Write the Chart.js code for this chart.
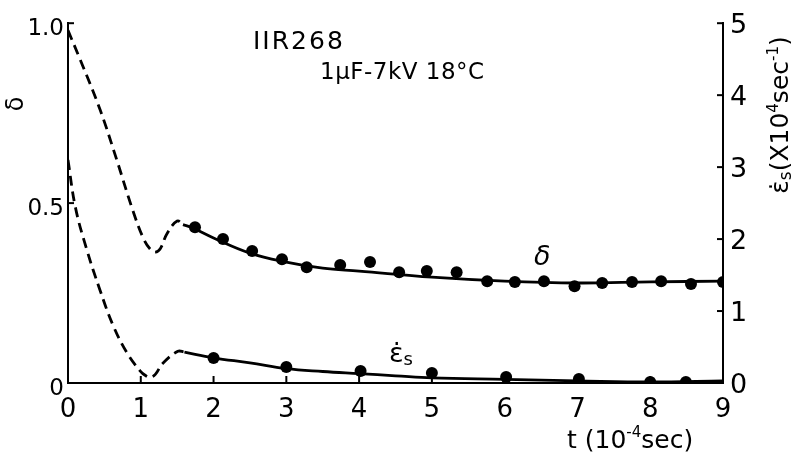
<!DOCTYPE html>
<html>
<head>
<meta charset="utf-8">
<script src="https://cdn.jsdelivr.net/npm/chart.js@4.4.1/dist/chart.umd.min.js"></script>
<style>
  html, body { margin: 0; padding: 0; background: #fff; }
</style>
</head>
<body>
<canvas id="chart" width="791" height="457"></canvas>
<script>
// time axis, units of 1e-4 sec
const xTicks = [0, 1, 2, 3, 4, 5, 6, 7, 8, 9];

// delta: fitted curve (dashed early part, solid later part) and measured points
const deltaDashT = [0, 0.165, 0.44, 0.67, 0.89, 1.04, 1.13, 1.2, 1.27, 1.36, 1.5, 1.58];
const deltaDash  = [0.98, 0.9, 0.76, 0.62, 0.48, 0.4, 0.372, 0.364, 0.374, 0.415, 0.45, 0.44];
const deltaFitT  = [1.58, 1.7, 2.0, 2.5, 3.0, 3.5, 4.0, 5.0, 6.0, 7.0, 8.0, 9.0];
const deltaFit   = [0.44, 0.432, 0.403, 0.361, 0.336, 0.319, 0.311, 0.294, 0.283, 0.278, 0.281, 0.283];
const deltaObsT  = [1.745, 2.13, 2.53, 2.94, 3.28, 3.74, 4.15, 4.55, 4.93, 5.34, 5.76, 6.14, 6.54, 6.96, 7.34, 7.75, 8.15, 8.56, 9.0];
const deltaObs   = [0.433, 0.40, 0.367, 0.344, 0.322, 0.328, 0.336, 0.308, 0.311, 0.308, 0.283, 0.281, 0.283, 0.269, 0.278, 0.281, 0.283, 0.275, 0.281];

// strain rate (x10^4 /sec): fitted curve and measured points
const rateDashT = [0, 0.1, 0.25, 0.44, 0.62, 0.81, 0.99, 1.07, 1.13, 1.2, 1.3, 1.51, 1.6];
const rateDash  = [3.1, 2.45, 1.88, 1.29, 0.8, 0.42, 0.17, 0.1, 0.08, 0.12, 0.27, 0.44, 0.43];
const rateFitT  = [1.6, 2.0, 2.5, 3.0, 3.5, 4.0, 4.5, 5.0, 6.0, 7.0, 8.0, 9.0];
const rateFit   = [0.43, 0.35, 0.28, 0.2, 0.16, 0.13, 0.1, 0.07, 0.05, 0.03, 0.015, 0.03];
const rateObsT  = [2.0, 3.0, 4.02, 5.0, 6.02, 7.02, 8.0, 8.49];
const rateObs   = [0.347, 0.222, 0.167, 0.139, 0.083, 0.056, 0.014, 0.014];

const deltaTicks = [0, 0.5, 1.0];
const rateTicks = [0, 1, 2, 3, 4, 5];

const pts = (xs, ys) => xs.map((x, i) => ({ x, y: ys[i] }));
const FONT = '"DejaVu Sans", sans-serif';

function curve(data, axis, dashed) {
  return {
    data, yAxisID: axis, borderColor: '#000', borderWidth: 2.8,
    borderDash: dashed ? [10, 6] : [], pointRadius: 0,
    tension: 0.4, fill: false
  };
}
function dots(data, axis) {
  return {
    data, yAxisID: axis, showLine: false, pointRadius: 6,
    pointBackgroundColor: '#000', pointBorderColor: '#000', pointBorderWidth: 0
  };
}

// draws a run of text pieces (normal / super / subscript) starting at x
function drawRuns(ctx, runs, x, y, align) {
  let total = 0;
  runs.forEach(r => { ctx.font = r.size + 'px ' + FONT; total += ctx.measureText(r.t).width; });
  let cx = align === 'center' ? x - total / 2 : x;
  runs.forEach(r => {
    ctx.font = (r.italic ? 'italic ' : '') + r.size + 'px ' + FONT;
    ctx.fillText(r.t, cx, y + (r.dy || 0));
    cx += ctx.measureText(r.t).width;
  });
}

const decor = {
  id: 'decor',
  afterDraw(chart) {
    const { ctx, scales: { x, y, y2 } } = chart;
    const bottom = y.getPixelForValue(0);
    ctx.save();
    ctx.strokeStyle = '#000';
    ctx.lineWidth = 2;
    // inward tick marks
    xTicks.slice(1, -1).forEach(v => {
      const px = x.getPixelForValue(v);
      ctx.beginPath(); ctx.moveTo(px, bottom); ctx.lineTo(px, bottom - 7); ctx.stroke();
    });
    deltaTicks.slice(1).forEach(v => {
      const py = y.getPixelForValue(v);
      ctx.beginPath(); ctx.moveTo(x.left, py); ctx.lineTo(x.left + 6, py); ctx.stroke();
    });
    rateTicks.slice(1).forEach(v => {
      const py = y2.getPixelForValue(v);
      ctx.beginPath(); ctx.moveTo(x.right, py); ctx.lineTo(x.right - 6, py); ctx.stroke();
    });

    ctx.fillStyle = '#000';
    ctx.textBaseline = 'alphabetic';
    ctx.textAlign = 'left';

    ctx.font = '25px ' + FONT;
    ctx.letterSpacing = '2px';
    ctx.fillText('IIR268', 253, 49);
    ctx.letterSpacing = '0.5px';
    ctx.font = '23px ' + FONT;
    ctx.fillText('1μF-7kV 18°C', 320, 79);
    ctx.letterSpacing = '0px';

    // curve labels
    drawRuns(ctx, [{ t: 'δ', size: 27, italic: true }], 534, 265);
    drawRuns(ctx, [{ t: 'ε̇', size: 27 }, { t: 's', size: 18, dy: 3 }], 389, 362);

    // x axis title
    drawRuns(ctx, [
      { t: 't (10', size: 25 }, { t: '-4', size: 15, dy: -11 }, { t: 'sec)', size: 25 }
    ], 567, 448);

    // left axis title
    ctx.save();
    ctx.translate(23, 104);
    ctx.rotate(-Math.PI / 2);
    drawRuns(ctx, [{ t: 'δ', size: 24 }], 0, 0, 'center');
    ctx.restore();

    // right axis title
    ctx.save();
    ctx.translate(788, 115);
    ctx.rotate(-Math.PI / 2);
    drawRuns(ctx, [
      { t: 'ε̇', size: 25 }, { t: 's', size: 17, dy: 3 }, { t: '(X10', size: 25 },
      { t: '4', size: 15, dy: -10 }, { t: 'sec', size: 25 }, { t: '-1', size: 15, dy: -10 },
      { t: ')', size: 25 }
    ], 0, 0, 'center');
    ctx.restore();
    ctx.restore();
  }
};

new Chart(document.getElementById('chart'), {
  type: 'line',
  data: {
    datasets: [
      curve(pts(deltaDashT, deltaDash), 'y', true),
      curve(pts(deltaFitT, deltaFit), 'y', false),
      dots(pts(deltaObsT, deltaObs), 'y'),
      curve(pts(rateDashT, rateDash), 'y2', true),
      curve(pts(rateFitT, rateFit), 'y2', false),
      dots(pts(rateObsT, rateObs), 'y2')
    ]
  },
  options: {
    responsive: false,
    devicePixelRatio: 1,
    animation: false,
    layout: { padding: { top: 21, left: 0, right: 0, bottom: 0 } },
    plugins: { legend: { display: false }, tooltip: { enabled: false } },
    scales: {
      x: {
        type: 'linear', min: 0, max: 9,
        afterBuildTicks: s => { s.ticks = xTicks.map(v => ({ value: v })); },
        afterFit: s => { s.height = 74; },
        grid: { drawOnChartArea: false, drawTicks: false },
        border: { display: true, color: '#000', width: 2 },
        ticks: { color: '#000', padding: 12, font: { family: FONT, size: 26 }, maxRotation: 0 }
      },
      y: {
        position: 'left', min: 0, max: 1,
        afterBuildTicks: s => { s.ticks = deltaTicks.map(v => ({ value: v })); },
        afterFit: s => { s.width = 68; },
        grid: { drawOnChartArea: false, drawTicks: false },
        border: { display: true, color: '#000', width: 2 },
        ticks: {
          color: '#000', padding: 4, labelOffset: 6, font: { family: FONT, size: 23 },
          callback: v => v === 0 ? '0' : v.toFixed(1)
        }
      },
      y2: {
        position: 'right', min: 0, max: 5,
        afterBuildTicks: s => { s.ticks = rateTicks.map(v => ({ value: v })); },
        afterFit: s => { s.width = 68; },
        grid: { drawOnChartArea: false, drawTicks: false },
        border: { display: true, color: '#000', width: 2 },
        ticks: { color: '#000', padding: 7, labelOffset: 3, font: { family: FONT, size: 27 } }
      }
    }
  },
  plugins: [decor]
});
</script>
</body>
</html>
